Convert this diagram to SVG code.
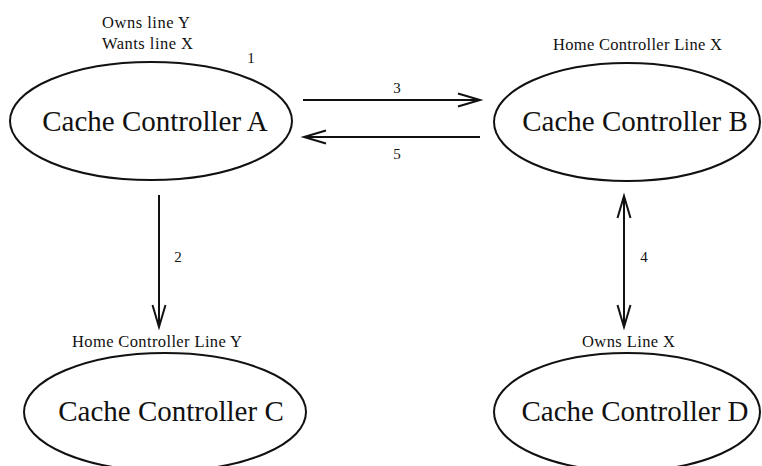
<svg xmlns="http://www.w3.org/2000/svg" width="762" height="466" viewBox="0 0 762 466">
  <style>
    .node ellipse { fill: #ffffff; stroke: #111111; stroke-width: 2; }
    .title { font-family: "Liberation Serif", "Times New Roman", serif; font-size: 29px; fill: #111111; text-anchor: middle; }
    .note { font-family: "Liberation Serif", "Times New Roman", serif; font-size: 16.5px; fill: #111111; }
    .num { font-family: "Liberation Serif", "Times New Roman", serif; font-size: 15px; fill: #111111; text-anchor: middle; }
    .edge { stroke: #111111; stroke-width: 2; fill: none; }
  </style>
  <defs>
    <marker id="head" markerUnits="userSpaceOnUse" markerWidth="26" markerHeight="16" refX="0" refY="0" viewBox="-24 -8 26 16" orient="auto-start-reverse" overflow="visible">
      <path d="M -22 -6.5 L 0 0 L -22 6.5" fill="none" stroke="#111111" stroke-width="2"/>
    </marker>
  </defs>
  <rect width="762" height="466" fill="#ffffff"/>

  <g id="cache-a" class="node">
    <ellipse cx="151" cy="121" rx="141" ry="59"/>
    <text class="title" x="155" y="131">Cache Controller A</text>
    <text class="note" x="102" y="28" textLength="88" lengthAdjust="spacing">Owns line Y</text>
    <text class="note" x="102" y="49" textLength="91" lengthAdjust="spacing">Wants line X</text>
    <text class="num" x="251" y="63">1</text>
  </g>

  <g id="cache-b" class="node">
    <ellipse cx="627" cy="122" rx="133" ry="59"/>
    <text class="title" x="635" y="131">Cache Controller B</text>
    <text class="note" x="553" y="50" textLength="169" lengthAdjust="spacing">Home Controller Line X</text>
  </g>

  <g id="cache-c" class="node">
    <ellipse cx="165" cy="412" rx="141" ry="59"/>
    <text class="title" x="171" y="421">Cache Controller C</text>
    <text class="note" x="72" y="347" textLength="170" lengthAdjust="spacing">Home Controller Line Y</text>
  </g>

  <g id="cache-d" class="node">
    <ellipse cx="627" cy="412" rx="133" ry="59"/>
    <text class="title" x="635" y="421">Cache Controller D</text>
    <text class="note" x="582" y="347" textLength="93" lengthAdjust="spacing">Owns Line X</text>
  </g>

  <g id="connectors">
    <line class="edge" x1="303" y1="100" x2="480" y2="100" marker-end="url(#head)"/>
    <text class="num" x="397" y="93">3</text>
    <line class="edge" x1="480" y1="137" x2="304" y2="137" marker-end="url(#head)"/>
    <text class="num" x="397" y="159">5</text>
    <line class="edge" x1="159" y1="195" x2="159" y2="327" marker-end="url(#head)"/>
    <text class="num" x="178" y="262">2</text>
    <line class="edge" x1="624" y1="196" x2="624" y2="327" marker-start="url(#head)" marker-end="url(#head)"/>
    <text class="num" x="644" y="262">4</text>
  </g>
</svg>
